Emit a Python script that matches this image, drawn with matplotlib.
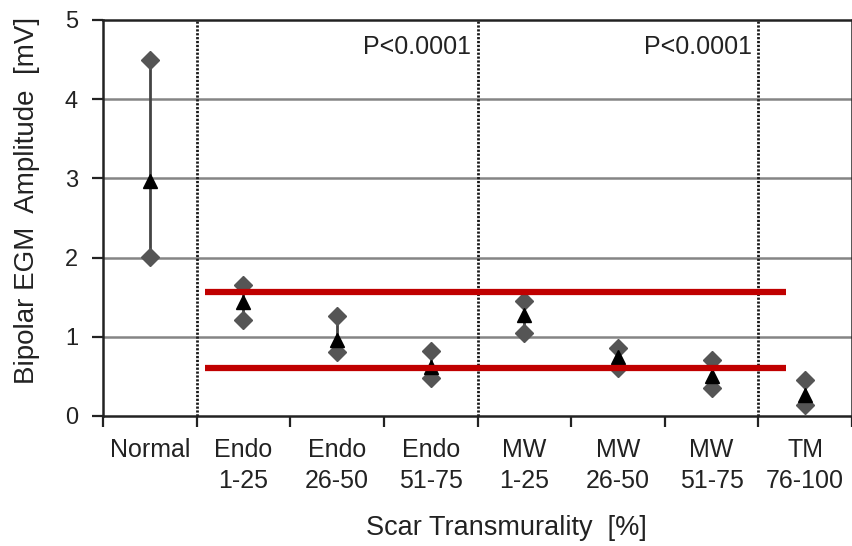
import numpy as np
import matplotlib
matplotlib.use('Agg')
import matplotlib.pyplot as plt

plt.rcParams['font.family'] = ['Liberation Sans', 'DejaVu Sans']

# data
groups = ['Normal', 'Endo\n1-25', 'Endo\n26-50', 'Endo\n51-75',
          'MW\n1-25', 'MW\n26-50', 'MW\n51-75', 'TM\n76-100']
upper = [4.49, 1.65, 1.26, 0.82, 1.45, 0.86, 0.71, 0.45]
mean = [2.97, 1.44, 0.96, 0.62, 1.28, 0.75, 0.50, 0.27]
lower = [2.01, 1.21, 0.81, 0.48, 1.05, 0.60, 0.35, 0.14]
cutoffs = [1.56, 0.60]
p_text = ['P<0.0001', 'P<0.0001']
dividers = [0.5, 3.5, 6.5]

x = np.arange(len(groups))
txt = '#222222'

fig = plt.figure(figsize=(8.53, 5.46), dpi=100)
ax = fig.add_axes([0.1208, 0.2381, 0.878, 0.7253])

for yv in [1, 2, 3, 4]:
    ax.axhline(yv, color='#858585', lw=1.8, zorder=1)

for xv in dividers:
    ax.axvline(xv, color='#1a1a1a', lw=2.0, ls=(0, (0.8, 0.6)), zorder=2)

# ranges
ax.vlines(x, lower, upper, color='#444444', lw=2, zorder=3)
ax.plot(x, upper, 'D', color='#555555', ms=9, zorder=4)
ax.plot(x, lower, 'D', color='#555555', ms=9, zorder=4)
ax.plot(x, mean, '^', color='black', ms=10.5, zorder=5)

for c in cutoffs:
    ax.hlines(c, 0.59, 6.80, color='#C00000', lw=4.5, zorder=6)

ax.text(3.43, 4.66, p_text[0], ha='right', va='center', fontsize=18, color=txt)
ax.text(6.43, 4.66, p_text[1], ha='right', va='center', fontsize=18, color=txt)

ax.set_xlim(-0.5, 7.5)
ax.set_ylim(0, 5)
ax.set_yticks([0, 1, 2, 3, 4, 5])
ax.set_xticks(np.arange(-0.5, 8.0, 1.0))
ax.set_xticklabels([])
ax.set_xticks(x, minor=True)
ax.set_xticklabels(groups, minor=True, fontsize=18, color=txt, linespacing=1.35)
ax.tick_params(axis='x', which='major', direction='out', length=8, width=1.6, color='#222222')
ax.tick_params(axis='x', which='minor', length=0, pad=16)
ax.tick_params(axis='y', direction='out', length=8, width=1.6, labelsize=17,
               labelcolor=txt, pad=10, color='#222222')

for s in ax.spines.values():
    s.set_linewidth(1.8)
    s.set_color('#222222')

ax.set_ylabel('Bipolar EGM  Amplitude  [mV]', fontsize=20, color=txt, va='center')
ax.yaxis.set_label_coords(-0.101, 0.545)
ax.set_xlabel('Scar Transmurality  [%]', fontsize=19.5, color=txt, va='center')
ax.xaxis.set_label_coords(0.539, -0.283)

fig.savefig('out.png', dpi=100)
